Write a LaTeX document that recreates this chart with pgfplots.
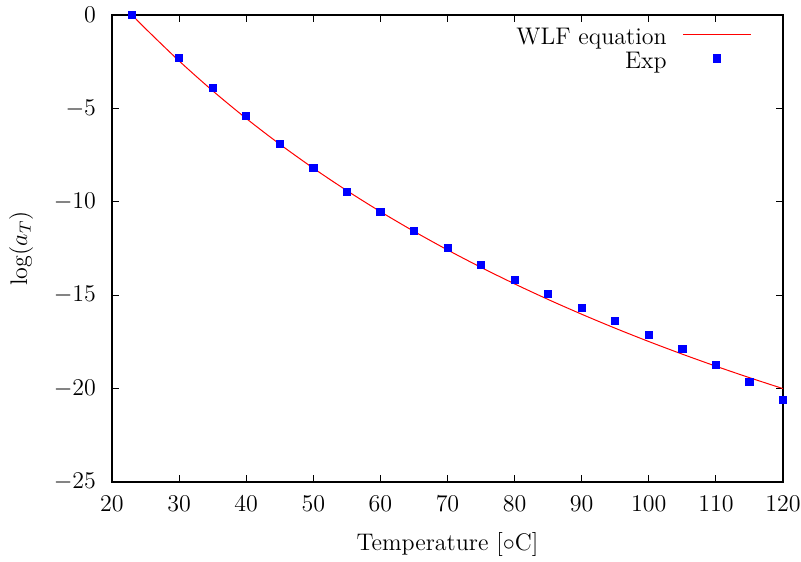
\documentclass[border=0pt]{standalone}
\usepackage{pgfplots}
\pgfplotsset{compat=1.18}
\pgfplotsset{
  wlfimg/.style={legend image code/.code={\draw[##1] (0pt,2.5pt) -- (34pt,2.5pt);}},
  expimg/.style={legend image code/.code={\draw[##1, mark repeat=2, mark phase=2] plot coordinates {(0pt,2.5pt) (17pt,2.5pt) (34pt,2.5pt)};}},
}
\begin{document}
\begin{tikzpicture}[font=\fontsize{12}{14.4}\selectfont]
\begin{axis}[
  scale only axis,
  width=335.5pt, height=233.5pt,
  xmin=20, xmax=120, ymin=-25, ymax=0,
  xtick={20,30,...,120},
  ytick={-25,-20,-15,-10,-5,0},
  tick align=inside,
  major tick length=3.5pt,
  minor tick num=0,
  tick style={line width=0.5pt, black},
  axis line style={line width=0.65pt},
  xticklabel style={yshift=-3.5pt},
  yticklabel style={xshift=-4.5pt},
  xlabel={Temperature [$\circ$C]},
  ylabel={$\log(a_T)$},
  xlabel style={at={(axis description cs:0.5,0)}, anchor=base, yshift=-34pt},
  ylabel style={at={(axis description cs:-0.1356,0.5)}, anchor=center},
  legend plot pos=right,
  legend cell align=right,
  legend style={draw=none, fill=none, inner sep=0pt,
    at={(rel axis cs:1,1)}, anchor=north east, xshift=-15.5pt, yshift=-6pt,
    /tikz/column sep=8pt, /tikz/row sep=0pt,
    nodes={inner sep=0pt, text height=8.5pt, text depth=3.5pt}},
  clip=false,
]
\addplot[red, line width=0.5pt, smooth, wlfimg] coordinates {
(23,0) (25,-0.731) (30,-2.458) (35,-4.056) (40,-5.537) (45,-6.915) (50,-8.200)
(55,-9.401) (60,-10.526) (65,-11.582) (70,-12.575) (75,-13.511) (80,-14.394)
(85,-15.229) (90,-16.019) (95,-16.769) (100,-17.481) (105,-18.157) (110,-18.801)
(115,-19.415) (120,-20.001)
};
\addlegendentry{WLF equation}
\addplot[only marks, mark=square*, mark size=1.8pt, line width=0.4pt,
  color={rgb,255:red,0;green,0;blue,255}, expimg] coordinates {
(23,0) (30,-2.28) (35,-3.89) (40,-5.39) (45,-6.89) (50,-8.17) (55,-9.46)
(60,-10.56) (65,-11.55) (70,-12.46) (75,-13.37) (80,-14.17) (85,-14.92)
(90,-15.67) (95,-16.37) (100,-17.11) (105,-17.88) (110,-18.72) (115,-19.63)
(120,-20.59)
};
\addlegendentry{Exp}
\end{axis}
\pgfresetboundingbox
\path[use as bounding box] ([shift={(-56pt,-39.5pt)}]current axis.south west) rectangle ([shift={(9pt,7.5pt)}]current axis.north east);
\end{tikzpicture}
\end{document}
